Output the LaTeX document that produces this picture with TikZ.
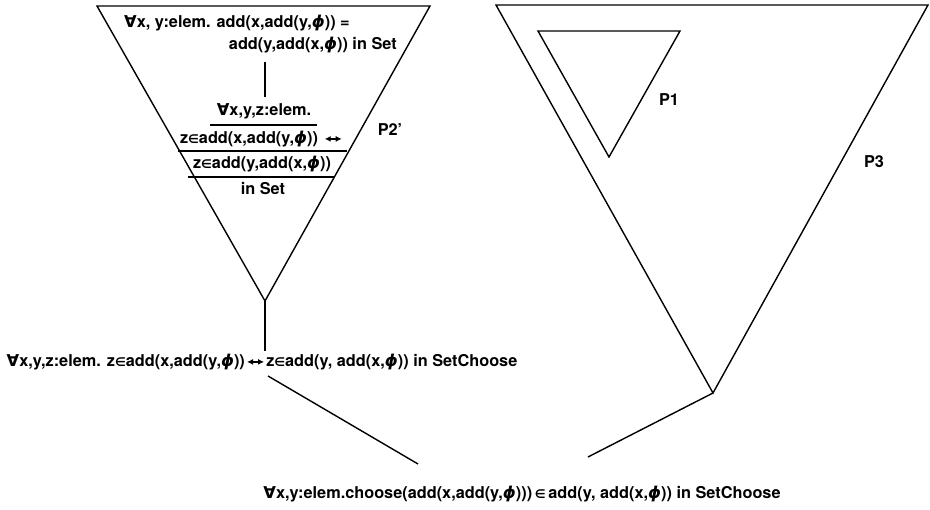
\documentclass[tikz,border=0pt]{standalone}
\usepackage{fontspec}
\usetikzlibrary{arrows.meta}
\setmainfont{TeX Gyre Heros}
\newfontfamily\symfont{DejaVu Sans}
\newcommand{\myforall}{{\symfont\bfseries ∀}}
\newcommand{\myin}{{\fontsize{12}{12}\selectfont\symfont ∈}}
\newcommand{\myphi}{{\symfont\itshape ϕ}}
\newcommand{\myiff}{\kern1.5pt\tikz[x=1pt,y=1pt,baseline=-4.5pt]\draw[line width=1.4pt,{Latex[length=6pt,width=6pt]}-{Latex[length=6pt,width=6pt]}] (0,0) -- (17,0);\kern1.5pt}
\begin{document}
\begin{tikzpicture}[x=1pt,y=-1pt,
  edge/.style={line width=1.4pt,line join=miter},
  rule/.style={line width=1.2pt},
  txt/.style={inner sep=0pt,font=\fontsize{16.3}{18}\selectfont\bfseries}]
\useasboundingbox (0,0) rectangle (930,510);
% left triangle
\coordinate (L1) at (97,6);
\coordinate (L2) at (430,6);
\coordinate (LA) at (265,301);
\draw[edge] (L1) -- (L2) -- (LA) -- cycle;
\node[txt,anchor=west] (t1) at (124,23) {\myforall x, y:elem. add(x,add(y,\myphi)) =};
\node[txt,anchor=east] (t2) at (397,45) {add(y,add(x,\myphi)) in Set};
\node[txt] (f1) at (264,111) {\myforall x,y,z:elem.};
\node[txt] (f2) at (262,139) {z\myin add(x,add(y,\myphi)) \myiff};
\node[txt] (f3) at (262,164) {z\myin add(y,add(x,\myphi))};
\node[txt] (f4) at (263,189) {in Set};
\coordinate (v1) at (265,62);
\draw[edge] (v1) -- ([yshift=6pt]v1 |- f1.north);
\draw[rule] (210,125) -- (317,125);
\draw[rule] (178,151) -- (347,151);
\draw[rule] (188,177) -- (335,177);
\node[txt] (p2) at (390,130) {P2’};
% middle
\node[txt] (mid) at (262,362) {\myforall x,y,z:elem. z\myin add(x,add(y,\myphi))\myiff z\myin add(y, add(x,\myphi)) in SetChoose};
\draw[edge] (LA) -- ([yshift=3pt]LA |- mid.north);
% right triangle
\coordinate (R1) at (496,5);
\coordinate (R2) at (928,5);
\coordinate (RA) at (713,393);
\draw[edge] (R1) -- (R2) -- (RA) -- cycle;
\coordinate (I1) at (538,31);
\coordinate (I2) at (680,31);
\coordinate (IA) at (609,157);
\draw[edge] (I1) -- (I2) -- (IA) -- cycle;
\node[txt] (p1) at (669,100) {P1};
\node[txt] (p3) at (874,162) {P3};
% bottom
\node[txt] (bot) at (522,494) {\myforall x,y:elem.choose(add(x,add(y,\myphi)))\,\myin\,add(y, add(x,\myphi)) in SetChoose};
\coordinate (m1) at (268,376);
\coordinate (b1) at (418,464);
\coordinate (b2) at (588,457);
\draw[edge] (m1) -- (b1);
\draw[edge] (RA) -- (b2);
\end{tikzpicture}
\end{document}
